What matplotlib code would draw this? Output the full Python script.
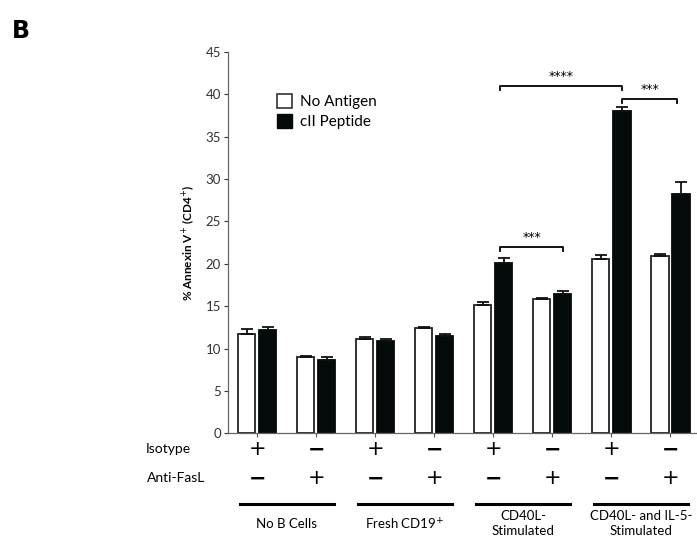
import numpy as np
import matplotlib
matplotlib.use("Agg")
import matplotlib.pyplot as plt
from matplotlib.patches import Patch

plt.rcParams['font.family'] = ['Lato', 'DejaVu Sans']

# data
no_antigen = [11.7, 8.95, 11.15, 12.4, 15.15, 15.8, 20.6, 20.9]
no_antigen_err = [0.65, 0.15, 0.25, 0.15, 0.35, 0.15, 0.5, 0.25]
cii_peptide = [12.25, 8.7, 10.9, 11.5, 20.15, 16.4, 38.0, 28.2]
cii_peptide_err = [0.35, 0.3, 0.25, 0.2, 0.5, 0.4, 0.55, 1.5]
isotype = ['+', '\u2212', '+', '\u2212', '+', '\u2212', '+', '\u2212']
anti_fasl = ['\u2212', '+', '\u2212', '+', '\u2212', '+', '\u2212', '+']
group_labels = ['No B Cells', 'Fresh CD19$^{+}$', 'CD40L-\nStimulated',
                'CD40L- and IL-5-\nStimulated']
y_ticks = [0, 5, 10, 15, 20, 25, 30, 35, 40, 45]

fig = plt.figure(figsize=(6.97, 5.46), dpi=100)
ax = fig.add_axes([0.327, 0.2064, 0.673, 0.6984])

x = np.arange(len(no_antigen))
w = 0.29
off = 0.178
zeros = np.zeros(len(x))

ax.bar(x - off, no_antigen, w, color='white', edgecolor='#222222', linewidth=1.3,
       yerr=[zeros, no_antigen_err], capsize=4,
       error_kw=dict(elinewidth=1.3, capthick=1.3, ecolor='#111111'))
ax.bar(x + off, cii_peptide, w, color='#050a0a', edgecolor='#050a0a', linewidth=1.3,
       yerr=[zeros, cii_peptide_err], capsize=4,
       error_kw=dict(elinewidth=1.3, capthick=1.3, ecolor='#111111'))

ax.set_xlim(-0.5, 7.45)
ax.set_ylim(0, 45)
ax.set_yticks(y_ticks)
ax.set_xticks(x)
ax.set_xticklabels([])
ax.tick_params(axis='y', labelsize=9.5, colors='#333333', length=3, width=0.8, pad=2)
ax.tick_params(axis='x', length=3, width=0.8, colors='#555555')
for s in ['top', 'right']:
    ax.spines[s].set_visible(False)
ax.spines['left'].set_color('#666666')
ax.spines['bottom'].set_color('#666666')
ax.spines['left'].set_linewidth(0.9)
ax.spines['bottom'].set_linewidth(0.9)
ax.set_ylabel('% Annexin V$^{+}$ (CD4$^{+}$)', fontsize=8.5, fontweight='bold', labelpad=6)

# legend
handles = [Patch(facecolor='white', edgecolor='#333333', linewidth=1.2, label='No Antigen'),
           Patch(facecolor='#050a0a', edgecolor='#050a0a', label='cII Peptide')]
ax.legend(handles=handles, loc='upper left', bbox_to_anchor=(0.075, 0.925), frameon=False,
          fontsize=11, handlelength=1.0, handleheight=1.0, handletextpad=0.5,
          labelspacing=0.3)

# significance brackets
def bracket(x1, x2, y, text, drop=0.5):
    ax.plot([x1, x1, x2, x2], [y - drop, y, y, y - drop], color='black', lw=1.3,
            clip_on=False)
    ax.text((x1 + x2) / 2, y + 0.3, text, ha='center', va='bottom', fontsize=9,
            family='DejaVu Sans')

bracket(4 + off - 0.06, 5 + off, 22.0, '***')
bracket(4 + off - 0.06, 6 + off, 41.0, '****')
bracket(6 + off, 7 + off - 0.06, 39.5, '***')

# condition rows under the axis
for i in x:
    for yy, sym in [(-1.9, isotype[i]), (-5.3, anti_fasl[i])]:
        ax.text(i, yy, sym, ha='center', va='center', fontsize=15, clip_on=False,
                family='DejaVu Sans', fontweight='bold' if sym != '+' else 'normal')
ax.text(-1.9, -1.9, 'Isotype', ha='left', va='center', fontsize=10, clip_on=False)
ax.text(-1.87, -5.3, 'Anti-FasL', ha='left', va='center', fontsize=10, clip_on=False)

for k, lab in enumerate(group_labels):
    c = 2 * k + 0.5
    ax.plot([c - 0.8, c + 0.8], [-8.3, -8.3], color='black', lw=2.2, clip_on=False)
    ax.text(c, -10.7, lab, ha='center', va='center', fontsize=9.5, clip_on=False,
            linespacing=1.3)

fig.text(0.017, 0.965, 'B', fontsize=17, fontweight='bold', ha='left', va='top',
         family='DejaVu Sans')

fig.savefig('out.png', dpi=100)
